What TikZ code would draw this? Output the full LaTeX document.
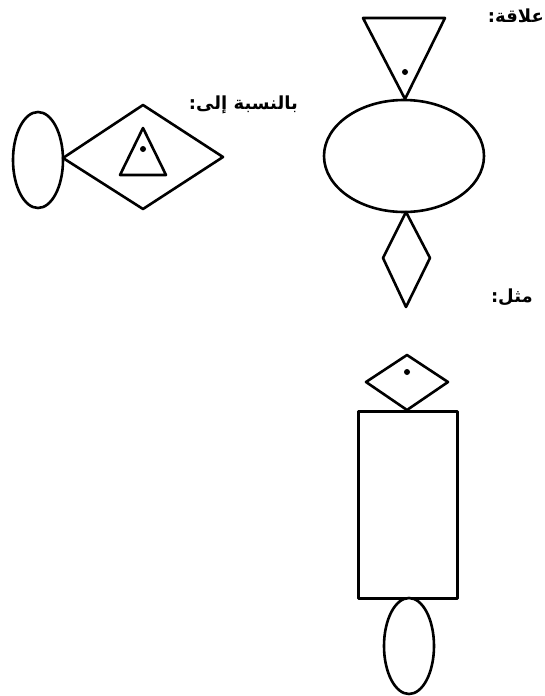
\documentclass[tikz,border=0pt]{standalone}
\usepackage{fontspec}
\usetikzlibrary{shapes.geometric}
\TeXXeTstate=1
\newfontfamily\arabicfont[Script=Arabic]{DejaVu Sans}
\begin{document}
\begin{tikzpicture}[x=1pt,y=-1pt,
  shp/.style={draw=black,line width=2.6pt,line join=round,fill=white},
  lbl/.style={font=\arabicfont\bfseries\fontsize{18}{20}\selectfont,inner sep=0pt},
  pt/.style={fill=black,circle,inner sep=0pt,minimum size=6pt}]
\useasboundingbox (0,0) rectangle (545,696);
% top relation group
\node[shp,ellipse,minimum width=160pt,minimum height=112pt,inner sep=0pt] (E1) at (404,156) {};
\coordinate (T1a) at (363,18); \coordinate (T1b) at (445,18); \coordinate (T1c) at (405,99);
\draw[shp] (T1a) -- (T1b) -- (T1c) -- cycle;
\node[pt] (d1) at (405,72) {};
\coordinate (D1t) at (406,212); \coordinate (D1r) at (430,258); \coordinate (D1b) at (406,307); \coordinate (D1l) at (383,258);
\draw[shp] (D1t) -- (D1r) -- (D1b) -- (D1l) -- cycle;
% left group
\node[shp,ellipse,minimum width=50pt,minimum height=96pt,inner sep=0pt] (E2) at (38,160) {};
\coordinate (D2l) at (63,158); \coordinate (D2t) at (143,105); \coordinate (D2r) at (223,157); \coordinate (D2b) at (143,209);
\draw[shp] (D2l) -- (D2t) -- (D2r) -- (D2b) -- cycle;
\coordinate (T2a) at (143,128); \coordinate (T2b) at (166,175); \coordinate (T2c) at (120,175);
\draw[shp] (T2a) -- (T2b) -- (T2c) -- cycle;
\node[pt] (d2) at (143,149) {};
% lower group
\node[shp,rectangle,minimum width=99pt,minimum height=187pt,inner sep=0pt] (R) at (408,505) {};
\node[shp,ellipse,minimum width=50pt,minimum height=96pt,inner sep=0pt] (E3) at (409,646) {};
\coordinate (D3t) at (407,355); \coordinate (D3r) at (448,382); \coordinate (D3b) at (407,410); \coordinate (D3l) at (366,382);
\draw[shp] (D3t) -- (D3r) -- (D3b) -- (D3l) -- cycle;
\node[pt] (d3) at (407,372) {};
% labels
\node[lbl,anchor=base east] (L1) at (544,22) {\beginR علاقة:\endR};
\node[lbl,anchor=base east] (L2) at (298,109) {\beginR بالنسبة إلى:\endR};
\node[lbl,anchor=base east] (L3) at (533,302) {\beginR مثل:\endR};
\end{tikzpicture}
\end{document}
